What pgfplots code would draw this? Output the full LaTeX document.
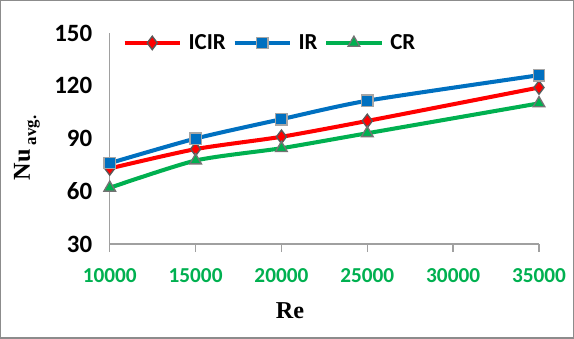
\documentclass[border=0pt]{standalone}
\usepackage{pgfplots}
\pgfplotsset{compat=1.18}
\usepackage{graphicx}
\usepackage{fontspec}
\setmainfont{Carlito}
\newfontfamily\serifb{Liberation Serif}
\definecolor{cred}{HTML}{FF0000}
\definecolor{cblue}{HTML}{0070C0}
\definecolor{cgreen}{HTML}{00B050}
\definecolor{axgray}{HTML}{A0A0A0}
\begin{document}
\begin{tikzpicture}
\begin{axis}[
  scale only axis,
  width=318.75pt, height=156.75pt,
  xmin=10000, xmax=35000, ymin=30, ymax=150,
  xtick={10000,15000,20000,25000,30000,35000},
  ytick={30,60,90,120,150},
  axis x line*=bottom, axis y line*=left,
  axis line style={axgray, line width=1pt, -},
  x tick style={axgray, line width=1pt},
  xtick align=outside, ytick style={draw=none},
  major tick length=6pt,
  scaled x ticks=false,
  /pgf/number format/assume math mode=true,
  xticklabel style={font=\fontsize{15.8}{17}\selectfont\bfseries, text=cgreen, yshift=-9pt},
  yticklabel style={font=\fontsize{18.5}{20}\selectfont\bfseries, xshift=-9.5pt},
  x tick label style={/pgf/number format/1000 sep={}},
  xlabel={\serifb\bfseries Re},
  every axis x label/.style={at={(axis description cs:0.42,0)}, anchor=center, yshift=-49.5pt, font=\fontsize{18}{20}\selectfont},
  clip=false,
  legend columns=-1,
  legend style={draw=none, fill=none, at={(axis description cs:0.02,1.02)}, anchor=north west,
    font=\fontsize{17}{19}\selectfont\bfseries, column sep=3pt},
  legend image code/.code={\draw[mark repeat=2,mark phase=2,#1] plot coordinates {(0pt,0pt)(20.5pt,0pt)(41pt,0pt)};},
]
\addplot[cred, line width=3pt, smooth, tension=0.4, mark=diamond*, mark size=5pt,
  mark options={fill=cred, draw=black!65, line width=1pt}]
  coordinates {(10000,73) (15000,84) (20000,91) (25000,100) (35000,119)};
\addlegendentry{ICIR}
\addplot[cblue, line width=3pt, smooth, tension=0.4, mark=square*, mark size=4.2pt,
  mark options={fill=cblue, draw=black!35, line width=1pt}]
  coordinates {(10000,76) (15000,90) (20000,101) (25000,111.5) (35000,126)};
\addlegendentry{IR}
\addplot[cgreen, line width=3pt, smooth, tension=0.4, mark=triangle*, mark size=5pt,
  mark options={fill=cgreen, draw=black!55, line width=1pt}]
  coordinates {(10000,62) (15000,77.5) (20000,84.5) (25000,93) (35000,110)};
\addlegendentry{CR}
\node[anchor=center, inner sep=0pt, font=\fontsize{18}{20}\selectfont] at ([xshift=-61.5pt]axis description cs:0,0.455)
  {\rotatebox{90}{\serifb\bfseries Nu\,\raisebox{-0.55ex}{\fontsize{12.5}{14}\selectfont avg.}}};
\end{axis}
\draw[black!45, line width=1pt] ([shift={(-81pt,-69.75pt)}]current axis.south west) rectangle ([shift={(25.5pt,24pt)}]current axis.north east);
\end{tikzpicture}
\end{document}
